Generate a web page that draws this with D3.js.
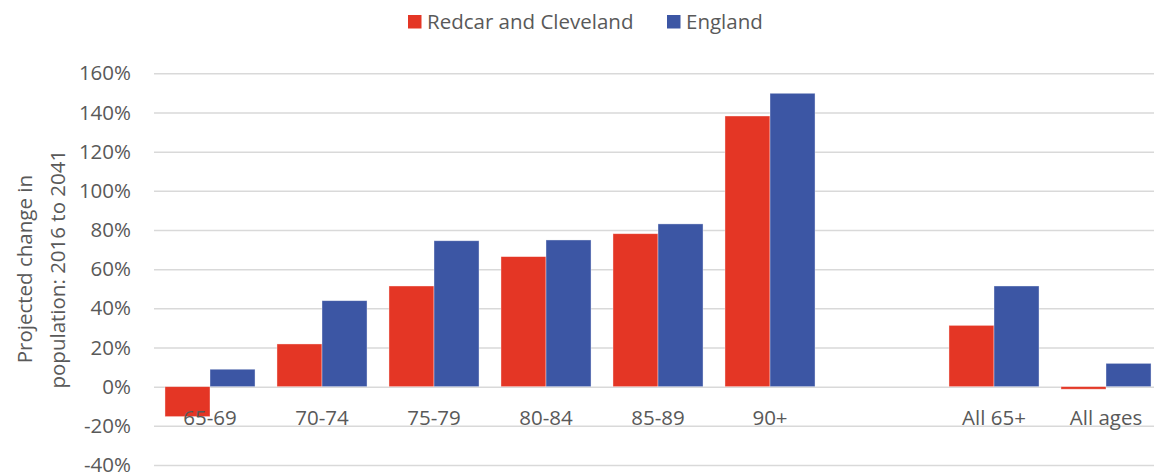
<!DOCTYPE html>
<html>
<head>
<meta charset="utf-8">
<script src="https://cdn.jsdelivr.net/npm/d3@7"></script>
<style>
  body { margin: 0; background: #fff; }
  svg text { font-family: "Open Sans", sans-serif; fill: #595959; }
</style>
</head>
<body>
<svg width="1154" height="472"></svg>
<script>
// chart data
var categories = ["65-69", "70-74", "75-79", "80-84", "85-89", "90+", "", "All 65+", "All ages"];
var seriesNames = ["Redcar and Cleveland", "England"];
var redcar = [-15.3, 21.8, 51.4, 66.4, 78.1, 138.2, null, 31.3, -1.3];
var england = [8.9, 43.9, 74.5, 74.9, 83.1, 149.8, null, 51.4, 11.9];
var yTicks = [-40, -20, 0, 20, 40, 60, 80, 100, 120, 140, 160];

var colors = ["#e43625", "#3c56a4"];
var fontSize = 20.5;

var svg = d3.select("svg");

// plot area (right edge runs past the picture, as in the original)
var plotLeft = 154, plotRight = 1162, plotTop = 73.3, plotBottom = 465;

var x = d3.scaleBand()
  .domain(categories)
  .range([plotLeft, plotRight])
  .paddingInner(0.196)
  .paddingOuter(0.098);

var xSub = d3.scaleBand()
  .domain(seriesNames)
  .range([0, x.bandwidth()]);

var y = d3.scaleLinear()
  .domain([-40, 160])
  .range([plotBottom, plotTop]);

// gridlines + tick labels
var yAxis = d3.axisLeft(y)
  .tickValues(yTicks)
  .tickSize(-(plotRight - plotLeft))
  .tickPadding(23)
  .tickFormat(function (d) { return d + "%"; });

var gAxis = svg.append("g")
  .attr("transform", "translate(" + plotLeft + ",0)")
  .call(yAxis);
gAxis.select(".domain").remove();
gAxis.selectAll(".tick line")
  .attr("stroke", "#d9d9d9")
  .attr("stroke-width", 1.5);
gAxis.selectAll(".tick text")
  .attr("font-size", fontSize)
  .attr("fill", "#595959")
  .style("font-family", "'Open Sans', sans-serif");

// bars
var rows = categories.map(function (c, i) {
  return { cat: c, values: [redcar[i], england[i]] };
});

var groups = svg.append("g")
  .selectAll("g")
  .data(rows)
  .enter()
  .append("g")
  .attr("transform", function (d) { return "translate(" + x(d.cat) + ",0)"; });

groups.selectAll("rect")
  .data(function (d) {
    return d.values.map(function (v, i) { return { name: seriesNames[i], value: v, i: i }; })
      .filter(function (e) { return e.value !== null; });
  })
  .enter()
  .append("rect")
  .attr("x", function (d) { return xSub(d.name); })
  .attr("width", xSub.bandwidth())
  .attr("y", function (d) { return y(Math.max(0, d.value)); })
  .attr("height", function (d) { return Math.abs(y(d.value) - y(0)); })
  .attr("fill", function (d) { return colors[d.i]; })
  .attr("stroke", "#ffffff")
  .attr("stroke-opacity", 0.5)
  .attr("stroke-width", 0.75);

// category labels sit just under the zero line
svg.append("g")
  .selectAll("text")
  .data(categories)
  .enter()
  .append("text")
  .attr("x", function (d) { return x(d) + x.bandwidth() / 2; })
  .attr("y", y(0) + 38)
  .attr("text-anchor", "middle")
  .attr("font-size", fontSize)
  .text(function (d) { return d; });

// legend
var legend = svg.append("g");
var legendX = [408, 667];
seriesNames.forEach(function (name, i) {
  legend.append("rect")
    .attr("x", legendX[i])
    .attr("y", 15)
    .attr("width", 13.5)
    .attr("height", 13.5)
    .attr("fill", colors[i]);
  legend.append("text")
    .attr("x", legendX[i] + 19)
    .attr("y", 29)
    .attr("font-size", fontSize)
    .text(name);
});

// y axis title (two lines)
var cy = (plotTop + plotBottom) / 2;
var title = svg.append("text")
  .attr("transform", "translate(0," + cy + ") rotate(-90)")
  .attr("text-anchor", "middle")
  .attr("font-size", fontSize);
title.append("tspan").attr("x", 0).attr("y", 32).text("Projected change in");
title.append("tspan").attr("x", 0).attr("y", 65).text("population: 2016 to 2041");
</script>
</body>
</html>
